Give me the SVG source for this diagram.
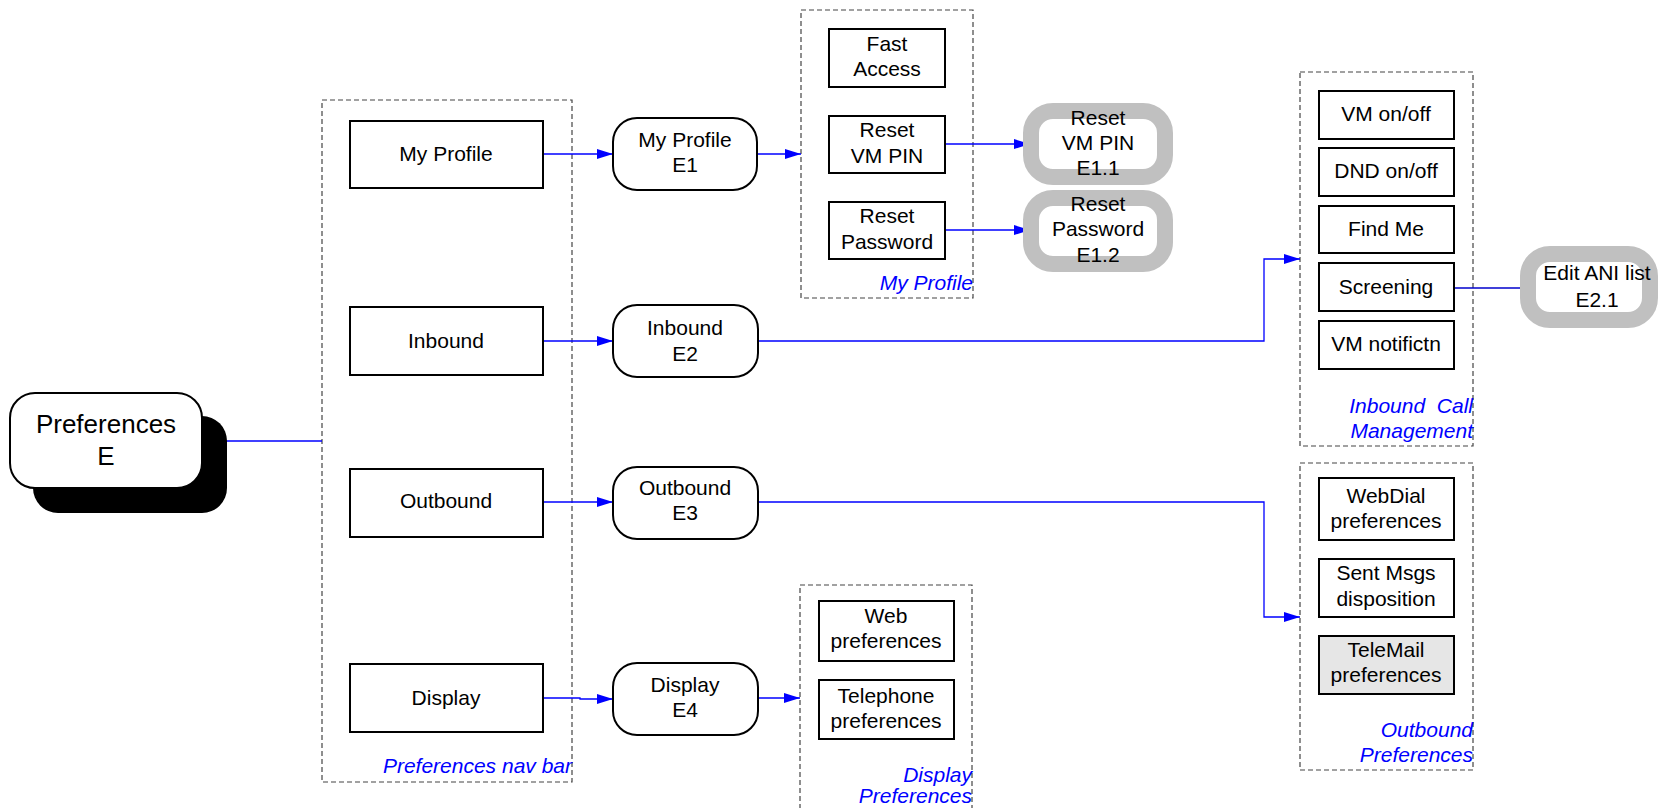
<svg xmlns="http://www.w3.org/2000/svg" width="1661" height="808" viewBox="0 0 1661 808">
<style>
text{font-family:"Liberation Sans",Arial,sans-serif;font-size:21px;fill:#000;text-anchor:middle}
.lbl{font-style:italic;fill:#0000ff;text-anchor:end}
.big{font-size:26px}
.box{fill:#fff;stroke:#000;stroke-width:2}
.rnd{fill:#fff;stroke:#000;stroke-width:2}
.gry{fill:#fff;stroke:#c0c0c0;stroke-width:16}
.dash{fill:none;stroke:#444;stroke-width:1.2;stroke-dasharray:5,3}
.con{fill:none;stroke:#0000ff;stroke-width:1.3}
</style>
<defs>
<marker id="arr" viewBox="0 0 16 10" refX="16" refY="5" markerWidth="16" markerHeight="10" markerUnits="userSpaceOnUse" orient="auto">
<path d="M0,0 L16,5 L0,10 Z" fill="#0000ff"/>
</marker>
</defs>

<g id="containers">
<g id="navbar"><rect class="dash" x="322" y="100" width="250" height="682"/><text class="lbl" x="572" y="773">Preferences nav bar</text></g>
<g id="myprofile-group"><rect class="dash" x="801" y="10" width="172" height="288"/><text class="lbl" x="973" y="290">My Profile</text></g>
<g id="inbound-group"><rect class="dash" x="1300" y="72" width="173" height="374"/><text class="lbl" x="1473" y="413" xml:space="preserve">Inbound  Call</text><text class="lbl" x="1473" y="438">Management</text></g>
<g id="outbound-group"><rect class="dash" x="1300" y="463" width="173" height="307"/><text class="lbl" x="1473" y="737">Outbound</text><text class="lbl" x="1473" y="762">Preferences</text></g>
<g id="display-group"><rect class="dash" x="800" y="585" width="172" height="240"/><text class="lbl" x="972" y="782">Display</text><text class="lbl" x="972" y="803">Preferences</text></g>
</g>

<g id="connectors">
<path class="con" d="M202,441 L322,441"/>
<path class="con" d="M543,154 L613,154" marker-end="url(#arr)"/>
<path class="con" d="M757,154 L801,154" marker-end="url(#arr)"/>
<path class="con" d="M945,144 L1030,144" marker-end="url(#arr)"/>
<path class="con" d="M945,230 L1030,230" marker-end="url(#arr)"/>
<path class="con" d="M543,341 L613,341" marker-end="url(#arr)"/>
<path class="con" d="M758,341 L1264,341 L1264,259 L1300,259" marker-end="url(#arr)"/>
<path class="con" d="M1454,288 L1528,288" style="stroke:#0000cc"/>
<path class="con" d="M543,502 L613,502" marker-end="url(#arr)"/>
<path class="con" d="M758,502 L1264,502 L1264,617 L1300,617" marker-end="url(#arr)"/>
<path class="con" d="M543,698 L580,698 L580,699 L613,699" marker-end="url(#arr)"/>
<path class="con" d="M758,698 L800,698" marker-end="url(#arr)"/>
</g>

<g id="prefE"><rect x="33" y="416" width="194" height="97" rx="25" fill="#000"/><rect class="rnd" x="10" y="393" width="192" height="95" rx="25"/><text class="big" x="106" y="433">Preferences</text><text class="big" x="106" y="465">E</text></g>

<g id="nav-myprofile"><rect class="box" x="350" y="121" width="193" height="67"/><text x="446" y="161">My Profile</text></g>
<g id="nav-inbound"><rect class="box" x="350" y="307" width="193" height="68"/><text x="446" y="348">Inbound</text></g>
<g id="nav-outbound"><rect class="box" x="350" y="469" width="193" height="68"/><text x="446" y="508">Outbound</text></g>
<g id="nav-display"><rect class="box" x="350" y="664" width="193" height="68"/><text x="446" y="705">Display</text></g>

<g id="E1"><rect class="rnd" x="613" y="118" width="144" height="72" rx="24"/><text x="685" y="147">My Profile</text><text x="685" y="172">E1</text></g>
<g id="E2"><rect class="rnd" x="613" y="305" width="145" height="72" rx="24"/><text x="685" y="335">Inbound</text><text x="685" y="361">E2</text></g>
<g id="E3"><rect class="rnd" x="613" y="467" width="145" height="72" rx="24"/><text x="685" y="495">Outbound</text><text x="685" y="520">E3</text></g>
<g id="E4"><rect class="rnd" x="613" y="663" width="145" height="72" rx="24"/><text x="685" y="692">Display</text><text x="685" y="717">E4</text></g>

<g id="fastaccess"><rect class="box" x="829" y="29" width="116" height="58"/><text x="887" y="51">Fast</text><text x="887" y="76">Access</text></g>
<g id="resetvmpin"><rect class="box" x="829" y="116" width="116" height="57"/><text x="887" y="137">Reset</text><text x="887" y="163">VM PIN</text></g>
<g id="resetpassword"><rect class="box" x="829" y="202" width="116" height="57"/><text x="887" y="223">Reset</text><text x="887" y="249">Password</text></g>

<g id="E1.1"><rect class="gry" x="1031" y="111" width="134" height="66" rx="22"/><text x="1098" y="125">Reset</text><text x="1098" y="150">VM PIN</text><text x="1098" y="175">E1.1</text></g>
<g id="E1.2"><rect class="gry" x="1031" y="198" width="134" height="66" rx="22"/><text x="1098" y="211">Reset</text><text x="1098" y="236">Password</text><text x="1098" y="262">E1.2</text></g>

<g id="vmonoff"><rect class="box" x="1319" y="91" width="135" height="48"/><text x="1386" y="121">VM on/off</text></g>
<g id="dndonoff"><rect class="box" x="1319" y="148" width="135" height="48"/><text x="1386" y="178">DND on/off</text></g>
<g id="findme"><rect class="box" x="1319" y="206" width="135" height="47"/><text x="1386" y="236">Find Me</text></g>
<g id="screening"><rect class="box" x="1319" y="263" width="135" height="48"/><text x="1386" y="294">Screening</text></g>
<g id="vmnotifictn"><rect class="box" x="1319" y="321" width="135" height="48"/><text x="1386" y="351">VM notifictn</text></g>

<g id="E2.1"><rect class="gry" x="1528" y="254" width="122" height="66" rx="22"/><text x="1597" y="280">Edit ANI list</text><text x="1597" y="307">E2.1</text></g>

<g id="webdial"><rect class="box" x="1319" y="478" width="135" height="62"/><text x="1386" y="503">WebDial</text><text x="1386" y="528">preferences</text></g>
<g id="sentmsgs"><rect class="box" x="1319" y="559" width="135" height="58"/><text x="1386" y="580">Sent Msgs</text><text x="1386" y="606">disposition</text></g>
<g id="telemail"><rect class="box" x="1319" y="636" width="135" height="58" style="fill:#e6e6e6"/><text x="1386" y="657">TeleMail</text><text x="1386" y="682">preferences</text></g>

<g id="webprefs"><rect class="box" x="819" y="601" width="135" height="60"/><text x="886" y="623">Web</text><text x="886" y="648">preferences</text></g>
<g id="telprefs"><rect class="box" x="819" y="680" width="135" height="59"/><text x="886" y="703">Telephone</text><text x="886" y="728">preferences</text></g>
</svg>
